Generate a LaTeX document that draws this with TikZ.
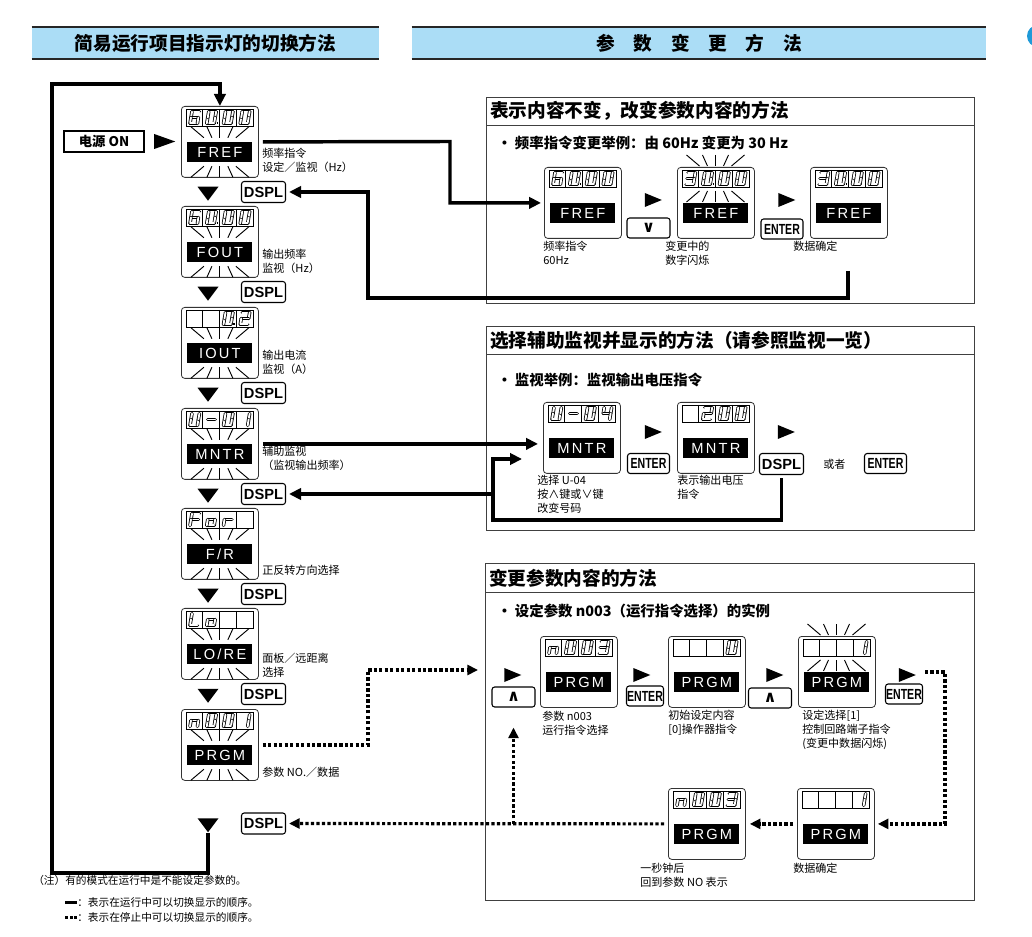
\documentclass[tikz,border=0pt]{standalone}
\usepackage{fontspec}
\setmainfont{Noto Sans CJK SC}
\setsansfont{Liberation Sans}
\newfontfamily\symf{DejaVu Sans}
\usepackage{graphicx}
\usepackage{tikz}
\usetikzlibrary{arrows.meta,positioning,calc,shapes.geometric}
\definecolor{bandblue}{HTML}{ABDDF6}
\definecolor{markblue}{HTML}{1F9AD8}
\newlength{\upx}\setlength{\upx}{0.75pt}
% seven-segment digits as corner pairs
\newcommand{\sgnone}{}
\newcommand{\sgzero}{TL/TR,TR/MR,MR/BR,BL/BR,ML/BL,TL/ML}
\newcommand{\sgone}{TR/MR,MR/BR}
\newcommand{\sgtwo}{TL/TR,TR/MR,ML/MR,ML/BL,BL/BR}
\newcommand{\sgthree}{TL/TR,TR/MR,ML/MR,MR/BR,BL/BR}
\newcommand{\sgfour}{TL/ML,ML/MR,TR/MR,MR/BR}
\newcommand{\sgsix}{TL/TR,TL/ML,ML/MR,ML/BL,BL/BR,MR/BR}
\newcommand{\sgU}{TL/ML,ML/BL,BL/BR,MR/BR,TR/MR}
\newcommand{\sgdash}{ML/MR}
\newcommand{\sgF}{TL/TR,TL/ML,ML/MR,ML/BL}
\newcommand{\sgL}{TL/ML,ML/BL,BL/BR}
\newcommand{\sglo}{ML/MR,MR/BR,BL/BR,ML/BL}
\newcommand{\sglr}{ML/MR,ML/BL}
\newcommand{\sgn}{ML/MR,MR/BR,ML/BL}
\newcommand{\sgdigit}[2]{%
  \ifx#2\sgnone\else
  \begin{scope}[shift={(#1,3)}]
    \coordinate (TL) at (6,2.6);  \coordinate (TR) at (13.4,2.6);
    \coordinate (ML) at (5,8.5);  \coordinate (MR) at (12.4,8.5);
    \coordinate (BL) at (4,14.4); \coordinate (BR) at (11.4,14.4);
    \foreach \segp/\segq in #2 {\draw[seg] (\segp) -- (\segq);}
  \end{scope}\fi}
\newcommand{\readout}[6]{%
  \begin{scope}[shift={(#1.north west)}]
    \draw[cellrow] (5,3) rectangle (72,20);
    \foreach \k in {1,2,3} {\draw[cellrow] ({5+16.75*\k},3) -- ({5+16.75*\k},20);}
    \sgdigit{5}{#2}\sgdigit{21.75}{#3}\sgdigit{38.5}{#4}\sgdigit{55.25}{#5}
    \ifnum#6>0 \fill ({2+16.75*#6},16) rectangle ++(1.8,1.8);\fi
    \coordinate (#1-dt) at (38.5,3);
    \coordinate (#1-db) at (38.5,20);
  \end{scope}}
\newcommand{\display}[3]{%
  \node[panel] (#1) at (#2) {};
  \node[tag] (#1-tag) at ($(#1.north)+(0,46)$) {#3};}
\newcommand{\flash}[2]{%
  \foreach \ua/\ub in {-29/-16,-13/-8,0/0,13/8,29/16} {
    \draw[ray] ($(#1)+(\ua,-15)$) -- ($(#1)+(\ub,-4)$);
    \draw[ray] ($(#2)+(\ua,15)$) -- ($(#2)+(\ub,4)$);}}
\newcommand{\enter}{\scalebox{0.72}[1]{ENTER}}

\begin{document}
\begin{tikzpicture}[x=0.75pt, y=-0.75pt,
  panel/.style={draw=black!80, line width=0.6pt, rounded corners=2.5pt, fill=white,
                minimum width=77\upx, minimum height=71\upx, anchor=north west, inner sep=0pt},
  tag/.style={fill=black, text=white, minimum width=65\upx, minimum height=20\upx, inner sep=0pt,
              font=\sffamily\fontsize{11}{11}\selectfont\addfontfeature{LetterSpace=15}},
  cellrow/.style={draw=black, line width=0.45pt, fill=white},
  seg/.style={draw=black, line width=0.6pt, double=white, double distance=1.4pt, line cap=round},
  ray/.style={line width=0.7pt},
  key/.style={draw, rounded corners=2pt, line width=0.8pt, fill=white, inner sep=0pt,
              minimum width=44\upx, minimum height=21\upx,
              font=\sffamily\bfseries\fontsize{11}{12}\selectfont},
  enterkey/.style={key, minimum width=42\upx, minimum height=20\upx},
  arrowkey/.style={key, minimum width=43\upx, minimum height=20\upx,
                   font=\symf\bfseries\fontsize{12}{12}\selectfont},
  tridown/.style={isosceles triangle, isosceles triangle stretches, shape border rotate=270,
                  fill=black, inner sep=0pt, minimum width=21\upx, minimum height=14\upx},
  triright/.style={isosceles triangle, isosceles triangle stretches, fill=black,
                   inner sep=0pt, minimum width=14\upx, minimum height=17\upx},
  band/.style={fill=bandblue, minimum height=32\upx, inner sep=0pt,
               font=\bfseries\fontsize{14}{16}\selectfont},
  bandline/.style={line width=1.6pt, draw=black!85},
  frame/.style={draw=black!75, line width=0.6pt, anchor=north west, inner sep=0pt},
  frameline/.style={draw=black!75, line width=0.6pt},
  boxtitle/.style={anchor=west, inner sep=0pt, font=\bfseries\fontsize{14}{16}\selectfont},
  bullet/.style={anchor=west, inner sep=0pt, font=\bfseries\fontsize{10.8}{12}\selectfont},
  lbl/.style={anchor=west, align=left, inner sep=0pt, font=\fontsize{8.3}{10.5}\selectfont},
  note/.style={anchor=west, inner sep=0pt, font=\fontsize{8}{10}\selectfont},
  run/.style={line width=2.6pt},
  runarrow/.style={run, -{Triangle[length=9pt,width=8.5pt]}},
  stop/.style={line width=2.4pt, dash pattern=on 2.4pt off 1.7pt},
  stoparrow/.style={stop, -{Triangle[length=8pt,width=7.5pt]}},
]
\useasboundingbox (0,0) rectangle (1032,937);

% headers
\node[band, minimum width=347\upx] (hdl) at (205.5,43) {简易运行项目指示灯的切换方法};
\node[band, minimum width=574\upx] (hdr) at (699,43)
  {参\hspace{1em}数\hspace{1em}变\hspace{1em}更\hspace{1em}方\hspace{1em}法};
\foreach \h in {hdl,hdr} {
  \draw[bandline] (\h.north west) -- (\h.north east);
  \draw[bandline] (\h.south west) -- (\h.south east);}
\begin{scope}
  \clip (0,0) rectangle (1032,937);
  \fill[markblue] (1038,36) circle[radius=11];
\end{scope}

% left column: indicator sequence
\display{fref}{181,106}{FREF}  \readout{fref}{\sgsix}{\sgzero}{\sgzero}{\sgzero}{2}
\display{fout}{181,206}{FOUT}  \readout{fout}{\sgsix}{\sgzero}{\sgzero}{\sgzero}{2}
\display{iout}{181,307}{IOUT}  \readout{iout}{\sgnone}{\sgnone}{\sgzero}{\sgtwo}{3}
\display{mntr}{181,408}{MNTR}  \readout{mntr}{\sgU}{\sgdash}{\sgzero}{\sgone}{0}
\display{fr}{181,508}{F/R}     \readout{fr}{\sgF}{\sglo}{\sglr}{\sgnone}{0}
\display{lore}{181,608}{LO/RE} \readout{lore}{\sgL}{\sglo}{\sgnone}{\sgnone}{0}
\display{prgm}{181,709}{PRGM}  \readout{prgm}{\sgn}{\sgzero}{\sgzero}{\sgone}{0}
\foreach \d in {fref,fout,iout,mntr,fr,lore,prgm} {\flash{\d-tag.north}{\d-tag.south}}

\foreach \i/\y in {1/192,2/292,3/393,4/494,5/594,6/694,7/823.5} {
  \node[tridown] (tri\i) at (208,\y) {};
  \node[key] (dspl\i) at (263.5,\y) {DSPL};}

\node[lbl] (fref-l) at (262,160)   {频率指令\\设定／监视（Hz）};
\node[lbl] (fout-l) at (262,261.5) {输出频率\\监视（Hz）};
\node[lbl] (iout-l) at (262,362.5) {输出电流\\监视（A）};
\node[lbl] (mntr-l) at (262,458.5) {辅助监视\\（监视输出频率）};
\node[lbl] (fr-l)   at (262,570)   {正反转方向选择};
\node[lbl] (lore-l) at (262,665.5) {面板／远距离\\选择};
\node[lbl] (prgm-l) at (262,772)   {参数 NO.／数据};

\node[key, minimum width=80\upx, rounded corners=0pt, line width=1pt,
      font=\bfseries\fontsize{10}{11}\selectfont] (pwr) at (104,141.5) {电源 ON};
\node[triright, minimum width=15\upx, minimum height=21\upx] (pwr-t) at (159.5,141.5) {};

\coordinate (loopbl) at (52,873);
\coordinate (looptl) at (52,84);
\draw[runarrow] (tri7.south) |- (loopbl) -- (looptl) -| (fref.north);

% box A: change value, same display
\node[frame, minimum width=488\upx, minimum height=206\upx] (boxA) at (486,97) {};
\draw[frameline] ($(boxA.north west)+(0,28)$) -- ($(boxA.north east)+(0,28)$);
\node[boxtitle] (boxA-t) at ($(boxA.north west)+(4,14)$) {表示内容不变，改变参数内容的方法};
\node[bullet] (boxA-b) at (497,143) {• 频率指令变更举例：由 60Hz 变更为 30 Hz};
\display{a1}{544,167}{FREF} \readout{a1}{\sgsix}{\sgzero}{\sgzero}{\sgzero}{2}
\display{a2}{677,167}{FREF} \readout{a2}{\sgthree}{\sgzero}{\sgzero}{\sgzero}{2}
\display{a3}{810,167}{FREF} \readout{a3}{\sgthree}{\sgzero}{\sgzero}{\sgzero}{2}
\flash{a2-dt}{a2-db}
\node[triright] (a-t1) at (649.5,200) {};
\node[arrowkey] (a-dn) at (648.5,228) {∨};
\node[triright] (a-t2) at (783,200) {};
\node[enterkey] (a-ent) at (782,229) {\enter};
\node[lbl] (a1-l) at (543,253) {频率指令\\60Hz};
\node[lbl] (a2-l) at (665,253) {变更中的\\数字闪烁};
\node[lbl] (a3-l) at (793,246) {数据确定};

\coordinate (toA) at (450,141.5);
\draw[runarrow, shorten >=3\upx] ([xshift=4\upx]fref.east) -- (toA) |- (a1.west);
\coordinate (backA) at (848,271);
\coordinate (backAc) at (368,298);
\draw[runarrow, shorten >=3\upx] (backA) |- (backAc) |- (dspl1.east);

% box B: auxiliary monitor
\node[frame, minimum width=488\upx, minimum height=204\upx] (boxB) at (486,326) {};
\draw[frameline] ($(boxB.north west)+(0,28)$) -- ($(boxB.north east)+(0,28)$);
\node[boxtitle] (boxB-t) at ($(boxB.north west)+(4,14)$) {选择辅助监视并显示的方法（请参照监视一览）};
\node[bullet] (boxB-b) at (497,380) {• 监视举例：监视输出电压指令};
\display{b1}{543,402}{MNTR} \readout{b1}{\sgU}{\sgdash}{\sgzero}{\sgfour}{0}
\display{b2}{677,402}{MNTR} \readout{b2}{\sgnone}{\sgtwo}{\sgzero}{\sgzero}{0}
\node[triright] (b-t1) at (649.5,432) {};
\node[enterkey] (b-ent1) at (648.5,463.5) {\enter};
\node[triright] (b-t2) at (782.5,432) {};
\node[key] (b-dspl) at (781.5,464) {DSPL};
\node[lbl] (b-or) at (823,464) {或者};
\node[enterkey] (b-ent2) at (885.5,463.5) {\enter};
\node[lbl] (b1-l) at (537,494) {选择 U-04\\按∧键或∨键\\改变号码};
\node[lbl] (b2-l) at (677,487) {表示输出电压\\指令};

\draw[runarrow, shorten >=5\upx] ([xshift=4\upx]mntr.east) -- (mntr.east -| b1.west);
\coordinate (backB) at (493,520);
\coordinate (backBup) at (493,459);
\coordinate (backBtip) at (522,459);
\draw[runarrow] ([yshift=-3\upx]b-dspl.south) |- (backB) -- (backBup) -- (backBtip);
\draw[runarrow, shorten >=3\upx] (backB |- dspl4.east) -- (dspl4.east);

% box C: change parameter
\node[frame, minimum width=489\upx, minimum height=337\upx] (boxC) at (485,563) {};
\draw[frameline] ($(boxC.north west)+(0,29)$) -- ($(boxC.north east)+(0,29)$);
\node[boxtitle] (boxC-t) at ($(boxC.north west)+(4,15)$) {变更参数内容的方法};
\node[bullet] (boxC-b) at (497,611) {• 设定参数 n003（运行指令选择）的实例};
\display{c1}{540,636}{PRGM} \readout{c1}{\sgn}{\sgzero}{\sgzero}{\sgthree}{0}
\display{c2}{668,636}{PRGM} \readout{c2}{\sgnone}{\sgnone}{\sgnone}{\sgzero}{0}
\display{c3}{798,636}{PRGM} \readout{c3}{\sgnone}{\sgnone}{\sgnone}{\sgone}{0}
\display{c4}{797,788}{PRGM} \readout{c4}{\sgnone}{\sgnone}{\sgnone}{\sgone}{0}
\display{c5}{668,788}{PRGM} \readout{c5}{\sgn}{\sgzero}{\sgzero}{\sgthree}{0}
\flash{c3-dt}{c3-db}
\node[triright] (c-t0) at (509,675) {};
\node[arrowkey] (c-up1) at (513.5,697) {∧};
\node[triright] (c-t1) at (638,675) {};
\node[enterkey, minimum width=37\upx] (c-ent1) at (645,696) {\enter};
\node[triright] (c-t2) at (771,675) {};
\node[arrowkey] (c-up2) at (770,698) {∧};
\node[triright] (c-t3) at (903.5,675) {};
\node[enterkey, minimum width=37\upx] (c-ent2) at (904,694) {\enter};
\node[lbl] (c1-l) at (542,723) {参数 n003\\运行指令选择};
\node[lbl] (c2-l) at (668,723) {初始设定内容\\{[0]}操作器指令};
\node[lbl] (c3-l) at (802,730) {设定选择[1]\\控制回路端子指令\\(变更中数据闪烁)};
\node[lbl] (c5-l) at (640,875) {一秒钟后\\回到参数 NO 表示};
\node[lbl] (c4-l) at (793,868) {数据确定};

\coordinate (toC) at (368,670);
\coordinate (toCtip) at (478,670);
\draw[stoparrow] ([xshift=4\upx]prgm.east) -| (toC) -- (toCtip);
\coordinate (outC) at (925,672);
\coordinate (outCc) at (945,672);
\draw[stoparrow, shorten >=3\upx] (outC) -- (outCc) |- (c4.east);
\draw[stoparrow, shorten >=4\upx, shorten <=4\upx] (c4.west) -- (c5.east);
\draw[stoparrow, shorten >=3\upx, shorten <=4\upx] (c5.west) -- (dspl7.east);
\draw[stoparrow] (c5.west -| c-up1.south) -- ([yshift=-20\upx]c-up1.south);

% notes
\node[note] (n0) at (33,880) {（注）有的模式在运行中是不能设定参数的。};
\node[note] (n1) at (65,902) {\rule[0.2em]{12\upx}{3\upx}：表示在运行中可以切换显示的顺序。};
\node[note] (n2) at (65,917) {\rule[0.2em]{3\upx}{3\upx}\hspace{1.5\upx}\rule[0.2em]{3\upx}{3\upx}\hspace{1.5\upx}\rule[0.2em]{3\upx}{3\upx}：表示在停止中可以切换显示的顺序。};
\end{tikzpicture}
\end{document}
